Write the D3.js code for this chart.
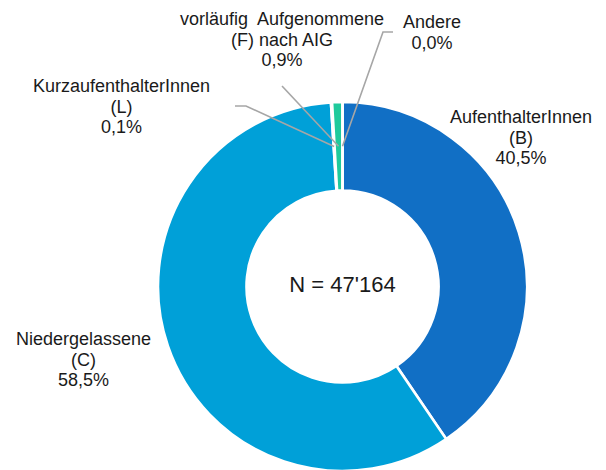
<!DOCTYPE html>
<html>
<head>
<meta charset="utf-8">
<script src="https://cdn.jsdelivr.net/npm/d3@7"></script>
<style>
  html, body { margin: 0; padding: 0; background: #fff; }
  svg text { font-family: "Liberation Sans", Arial, sans-serif; fill: #1a1a1a; white-space: pre; }
</style>
</head>
<body>
<svg id="chart" width="606" height="470"></svg>
<script>
// ---- data ----
const categories = ["AufenthalterInnen", "Niedergelassene", "KurzaufenthalterInnen", "vorläufig  Aufgenommene", "Andere"];
const codeLines = ["(B)", "(C)", "(L)", "(F) nach AIG", null];
const values = [40.5, 58.5, 0.1, 0.9, 0.0];
const valueLabels = ["40,5%", "58,5%", "0,1%", "0,9%", "0,0%"];
const colors = ["#116fc5", "#00a0d8", "#dcecf6", "#1fca9c", "#7f7f7f"];
const centerLabel = "N = 47'164";

// ---- layout ----
const W = 606, H = 470;
const cx = 342.5, cy = 286.5, rOuter = 184.5, rInner = 96;
const fontSize = 18, lineH = 20.6;
// label anchors: centre x, first baseline y
const labelPos = [
  { x: 521, y: 123 },
  { x: 83.5, y: 345 },
  { x: 121.5, y: 92 },
  { x: 282, y: 25 },
  { x: 432, y: 28 }
];
// leader line outer points (null = none)
const leaderPts = [
  null,
  null,
  [[235, 106], [246, 106]],
  [[282, 86]],
  [[393, 32], [383, 32]]
];

const svg = d3.select("#chart");
const g = svg.append("g").attr("transform", `translate(${cx},${cy})`);

const pie = d3.pie().sort(null).value(d => d)(values);
const arc = d3.arc().innerRadius(rInner).outerRadius(rOuter);
const midArc = d3.arc().innerRadius((rInner + rOuter) / 2).outerRadius((rInner + rOuter) / 2);

g.selectAll("path.slice")
  .data(pie)
  .join("path")
  .attr("class", "slice")
  .attr("d", arc)
  .attr("fill", (d, i) => colors[i])
  .attr("stroke", "#fff")
  .attr("stroke-width", 2.6)
  .attr("stroke-linejoin", "miter");

// leader lines
pie.forEach((d, i) => {
  const pts = leaderPts[i];
  if (!pts) return;
  const c = midArc.centroid(d);
  const all = pts.map(p => [p[0] - cx, p[1] - cy]).concat([c]);
  g.append("path")
    .attr("d", d3.line()(all))
    .attr("fill", "none")
    .attr("stroke", "#a6a6a6")
    .attr("stroke-width", 1.6);
});

// labels
categories.forEach((cat, i) => {
  const lines = [cat];
  if (codeLines[i]) lines.push(codeLines[i]);
  lines.push(valueLabels[i]);
  const t = svg.append("text")
    .attr("text-anchor", "middle")
    .attr("font-size", fontSize)
    .attr("x", labelPos[i].x)
    .attr("y", labelPos[i].y);
  lines.forEach((ln, k) => {
    t.append("tspan")
      .attr("x", labelPos[i].x)
      .attr("y", labelPos[i].y + k * lineH)
      .text(ln);
  });
});

// centre label
svg.append("text")
  .attr("x", cx)
  .attr("y", 292)
  .attr("text-anchor", "middle")
  .attr("font-size", 22)
  .text(centerLabel);
</script>
</body>
</html>
